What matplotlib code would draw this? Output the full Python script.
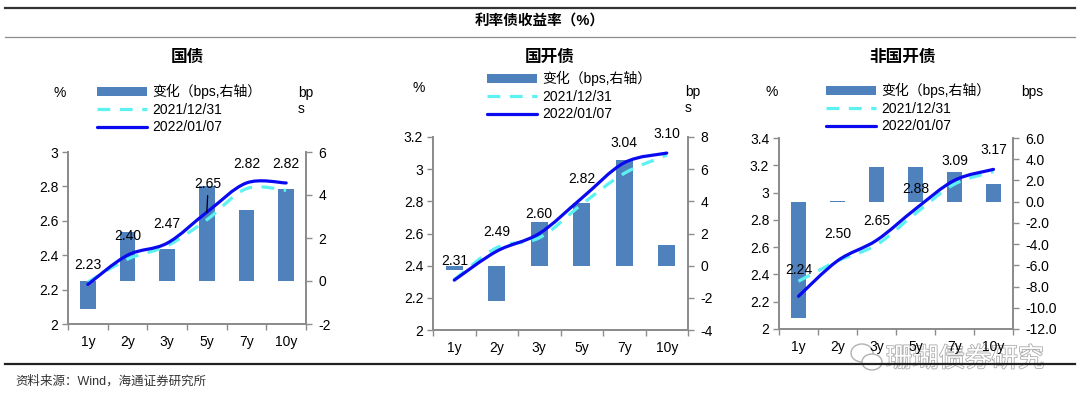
"""
利率债收益率曲线：国债 / 国开债 / 非国开债
"""

import numpy as np
import matplotlib
matplotlib.use('Agg')
import matplotlib.pyplot as plt
from matplotlib.path import Path
from matplotlib.patches import PathPatch, Patch, Ellipse
from matplotlib.lines import Line2D
import matplotlib.patheffects as pe
from matplotlib.ticker import FormatStrFormatter

plt.rcParams['font.family'] = ['Liberation Sans', 'Noto Sans CJK SC']
plt.rcParams['axes.unicode_minus'] = False

# Data
tenors = ['1y', '2y', '3y', '5y', '7y', '10y']
panel_titles = ['国债', '国开债', '非国开债']

gz_new = [2.23, 2.40, 2.47, 2.65, 2.82, 2.82]
gz_old = [2.243, 2.377, 2.455, 2.606, 2.787, 2.777]
gz_chg = [-1.3, 2.3, 1.5, 4.4, 3.3, 4.3]

gk_new = [2.31, 2.49, 2.60, 2.82, 3.04, 3.10]
gk_old = [2.313, 2.512, 2.573, 2.781, 2.974, 3.087]
gk_chg = [-0.3, -2.2, 2.7, 3.9, 6.6, 1.3]

fgk_new = [2.24, 2.50, 2.65, 2.88, 3.09, 3.17]
fgk_old = [2.350, 2.499, 2.617, 2.847, 3.062, 3.153]
fgk_chg = [-11.0, 0.1, 3.3, 3.3, 2.8, 1.7]

legend_labels = ['变化（bps,右轴）', '2021/12/31', '2022/01/07']

# colours
BAR_C = '#4F81BD'
OLD_C = '#5CF2F2'
NEW_C = '#0A0AF0'
SPINE_C = '#8C8C8C'
FS = 10

W, H = 1080, 408


def fx(px):
    return px / W


def fy(py):
    return 1 - py / H


def smooth_path(x, y):
    """Excel-like smoothed line as cubic bezier segments"""
    pts = np.column_stack([x, y]).astype(float)
    n = len(pts)
    verts = [pts[0]]
    codes = [Path.MOVETO]
    for i in range(n - 1):
        p0 = pts[i - 1] if i > 0 else pts[i]
        p1 = pts[i]
        p2 = pts[i + 1]
        p3 = pts[i + 2] if i + 2 < n else pts[i + 1]
        verts += [p1 + (p2 - p0) / 6, p2 - (p3 - p1) / 6, p2]
        codes += [Path.CURVE4] * 3
    return Path(verts, codes)


def draw_panel(fig, rect, new, old, chg, lims, rlims, rstep, title, title_xy,
               leg_xy, pct_xy, bps_xy, bps_text, rfmt=None, lab_off=None):
    ax = fig.add_axes(rect)
    ax2 = ax.twinx()
    ax.set_zorder(ax2.get_zorder() + 1)
    ax.patch.set_visible(False)

    x = np.arange(len(tenors))
    ax2.bar(x, chg, width=0.4, color=BAR_C, zorder=1)
    ax2.set_ylim(*rlims)
    ax2.set_yticks(np.arange(rlims[0], rlims[1] + 0.01, rstep))
    if rfmt:
        ax2.yaxis.set_major_formatter(FormatStrFormatter(rfmt))

    ax.add_patch(PathPatch(smooth_path(x, old), fill=False, edgecolor=OLD_C,
                           lw=2.3, linestyle=(0, (4, 3)), capstyle='butt', zorder=2))
    ax.add_patch(PathPatch(smooth_path(x, new), fill=False, edgecolor=NEW_C,
                           lw=2.3, capstyle='round', zorder=3))
    ax.set_xlim(-0.5, len(tenors) - 0.5)
    ax.set_ylim(*lims)
    yt = np.round(np.arange(lims[0], lims[1] + 0.001, 0.2), 1)
    ax.set_yticks(yt)
    ax.set_yticklabels(['%g' % v for v in yt])

    # category ticks at boundaries, labels at centres
    ax.set_xticks(np.arange(-0.5, len(tenors)), [''] * (len(tenors) + 1))
    ax.set_xticks(x, tenors, minor=True)
    ax.tick_params(axis='x', which='major', length=4, width=1, color=SPINE_C, direction='out')
    ax.tick_params(axis='x', which='minor', length=0, pad=8, labelsize=FS)
    ax.tick_params(axis='y', length=4, width=1, color=SPINE_C, pad=3, labelsize=FS)
    ax2.tick_params(axis='y', length=4, width=1, color=SPINE_C, pad=5, labelsize=FS)

    for a in (ax, ax2):
        a.spines['top'].set_visible(False)
        for s in ('left', 'right', 'bottom'):
            a.spines[s].set_color(SPINE_C)
            a.spines[s].set_linewidth(1.3)

    # data labels
    lab_off = lab_off or {}
    for i, v in enumerate(new):
        dx, dy, lead = lab_off.get(i, (0, 14, False))
        kw = {}
        if lead:
            kw['arrowprops'] = dict(arrowstyle='-', color='black', lw=0.9,
                                    shrinkA=1, shrinkB=0)
        ax.annotate('%.2f' % v, (x[i], v), xytext=(dx, dy), textcoords='offset points',
                    ha='center', va='center', fontsize=FS, zorder=5, **kw)

    fig.text(fx(title_xy[0]), fy(title_xy[1]), title, ha='center', va='center',
             fontsize=12, fontweight='bold')
    fig.text(fx(pct_xy[0]), fy(pct_xy[1]), '%', ha='center', va='center', fontsize=FS)
    fig.text(fx(bps_xy[0]), fy(bps_xy[1]), bps_text, ha='left', va='top', fontsize=FS,
             linespacing=1.2)

    handles = [Patch(facecolor=BAR_C, edgecolor='none'),
               Line2D([], [], color=OLD_C, lw=2.3, linestyle=(0, (4, 3))),
               Line2D([], [], color=NEW_C, lw=2.3, solid_capstyle='round')]
    fig.legend(handles, legend_labels, loc='upper left',
               bbox_to_anchor=(fx(leg_xy[0]), fy(leg_xy[1])), frameon=False,
               borderpad=0, borderaxespad=0, handlelength=3.6, handleheight=0.6,
               handletextpad=0.4, labelspacing=0.26, fontsize=FS)
    return ax, ax2


def main():
    fig = plt.figure(figsize=(10.8, 4.08), dpi=100)

    # frame lines and titles
    fig.add_artist(Line2D([fx(5), fx(1075)], [fy(8), fy(8)], color='#333333', lw=1.6))
    fig.add_artist(Line2D([fx(5), fx(1075)], [fy(37), fy(37)], color='#8C8C8C', lw=0.9))
    fig.add_artist(Line2D([fx(5), fx(1075)], [fy(364), fy(364)], color='#222222', lw=1.6))
    fig.text(0.5, fy(22), '利率债收益率（%）', ha='center', va='center',
             fontsize=10.5, fontweight='bold')
    fig.text(fx(15), fy(381), '资料来源：Wind，海通证券研究所', ha='left', va='center',
             fontsize=9, color='#333333')

    draw_panel(fig, [fx(68), fy(324), fx(238), 172 / H], gz_new, gz_old, gz_chg,
               (2, 3), (-2, 6), 2, panel_titles[0], (187, 57), (97, 84), (60, 93), (298, 86),
               'bp\ns', lab_off={3: (1, 20, True)})
    draw_panel(fig, [fx(433), fy(330), fx(255), 193 / H], gk_new, gk_old, gk_chg,
               (2, 3.2), (-4, 8), 2, panel_titles[1], (550, 57), (487, 71), (419, 88), (685, 85),
               'bp\ns')
    draw_panel(fig, [fx(779), fy(329), fx(234), 191 / H], fgk_new, fgk_old, fgk_chg,
               (2, 3.4), (-12, 6), 2, panel_titles[2], (902, 57), (826, 83), (772, 92), (1021, 85),
               'bps', rfmt='%.1f', lab_off={0: (0, 19, False), 1: (0, 19, False)})

    # watermark, drawn beneath the axes so tick labels stay on top
    fig.text(fx(965), fy(359), '珊瑚债券研究', ha='center', va='center', fontsize=19,
             color='white', fontweight='light', zorder=-1,
             path_effects=[pe.withStroke(linewidth=1.2, foreground='#ABABAB')])
    for cx, cy, w, h in [(862, 353, 22, 18), (872, 362, 20, 16)]:
        fig.add_artist(Ellipse((fx(cx), fy(cy)), w / W, h / H, fill=True, facecolor='white',
                               edgecolor='#B0B0B0', lw=1.0, zorder=-2))

    fig.savefig('out.png', dpi=100)


main()
